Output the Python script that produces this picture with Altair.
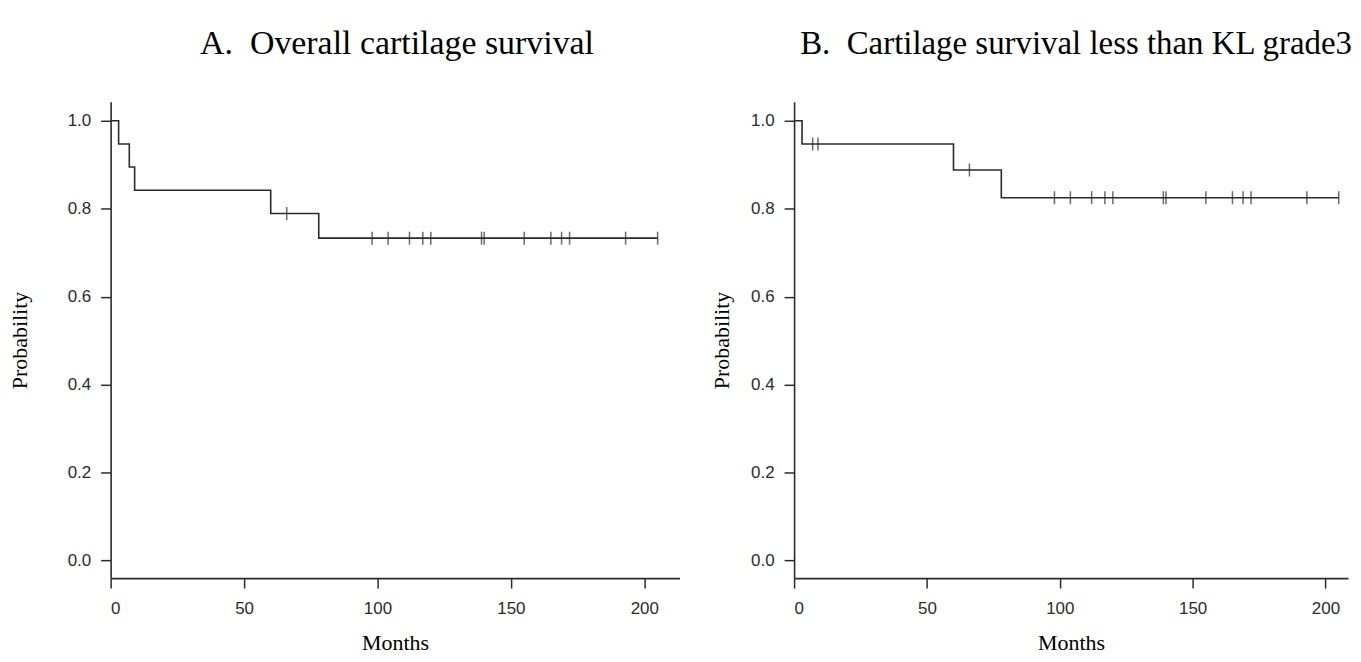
import altair as alt
import pandas as pd

# ---- Panel A: overall cartilage survival ----
a_step_time = [0, 3, 7, 9, 60, 78, 205]
a_step_surv = [1.0, 0.947, 0.895, 0.842, 0.789, 0.733, 0.733]
a_cens_time = [66, 98, 104, 112, 117, 120, 139, 140, 155, 165, 169, 172, 193, 205]
a_cens_surv = [0.789, 0.733, 0.733, 0.733, 0.733, 0.733, 0.733, 0.733,
               0.733, 0.733, 0.733, 0.733, 0.733, 0.733]

# ---- Panel B: cartilage survival less than KL grade3 ----
b_step_time = [0, 3, 60, 78, 205]
b_step_surv = [1.0, 0.947, 0.888, 0.825, 0.825]
b_cens_time = [7, 9, 66, 98, 104, 112, 117, 120, 139, 140, 155, 165, 169, 172, 193, 205]
b_cens_surv = [0.947, 0.947, 0.888, 0.825, 0.825, 0.825, 0.825, 0.825, 0.825,
               0.825, 0.825, 0.825, 0.825, 0.825, 0.825, 0.825]

x_ticks = [0, 50, 100, 150, 200]
y_ticks = [0.0, 0.2, 0.4, 0.6, 0.8, 1.0]

INK = "#2b2b2b"


def panel(step_t, step_s, cens_t, cens_s, title, xmax, width, ytitle_pad,
          title_size, title_dx):
    step_df = pd.DataFrame({"t": step_t, "s": step_s})
    cens_df = pd.DataFrame({"t": cens_t, "s": cens_s})
    x = alt.X("t:Q",
              scale=alt.Scale(domain=[0, xmax], nice=False, zero=False),
              axis=alt.Axis(values=x_ticks, title="Months", labelPadding=13,
                            titlePadding=16))
    y = alt.Y("s:Q",
              scale=alt.Scale(domain=[-0.04, 1.043], nice=False, zero=False),
              axis=alt.Axis(values=y_ticks, format=".1f", title="Probability",
                            labelPadding=10, titlePadding=ytitle_pad))
    line = alt.Chart(step_df).mark_line(
        interpolate="step-after", color=INK, strokeWidth=1.6
    ).encode(x=x, y=y)
    cens = alt.Chart(cens_df).mark_tick(
        orient="vertical", size=13, thickness=1.5, color=INK
    ).encode(x="t:Q", y="s:Q")
    return alt.layer(line, cens).properties(
        width=width, height=478,
        title=alt.TitleParams(text=title, font="Liberation Serif",
                              fontSize=title_size, fontWeight="normal",
                              color="black", anchor="middle", frame="group",
                              dx=title_dx, offset=41),
    )


pa = panel(a_step_time, a_step_surv, a_cens_time, a_cens_surv,
           "A.\u00a0 Overall cartilage survival", 213.2, 571, 36, 34, 2)
pb = panel(b_step_time, b_step_surv, b_cens_time, b_cens_surv,
           "B.\u00a0 Cartilage survival less than KL grade3", 208.5, 556, 17,
           33, 5)

chart = alt.hconcat(pa, pb, spacing=31).properties(
    padding={"left": 0, "top": 18, "right": 0, "bottom": 0}
).configure_view(strokeWidth=0).configure_axis(
    grid=False,
    domainColor=INK, domainWidth=1.6,
    tickColor=INK, tickWidth=1.5, tickSize=10,
    labelFont="Liberation Sans", labelFontSize=17, labelColor=INK,
    titleFont="Liberation Serif", titleFontSize=22, titleFontWeight="normal",
    titleColor="black",
)

chart.save("out.html", embed_options={"renderer": "svg", "actions": False})
